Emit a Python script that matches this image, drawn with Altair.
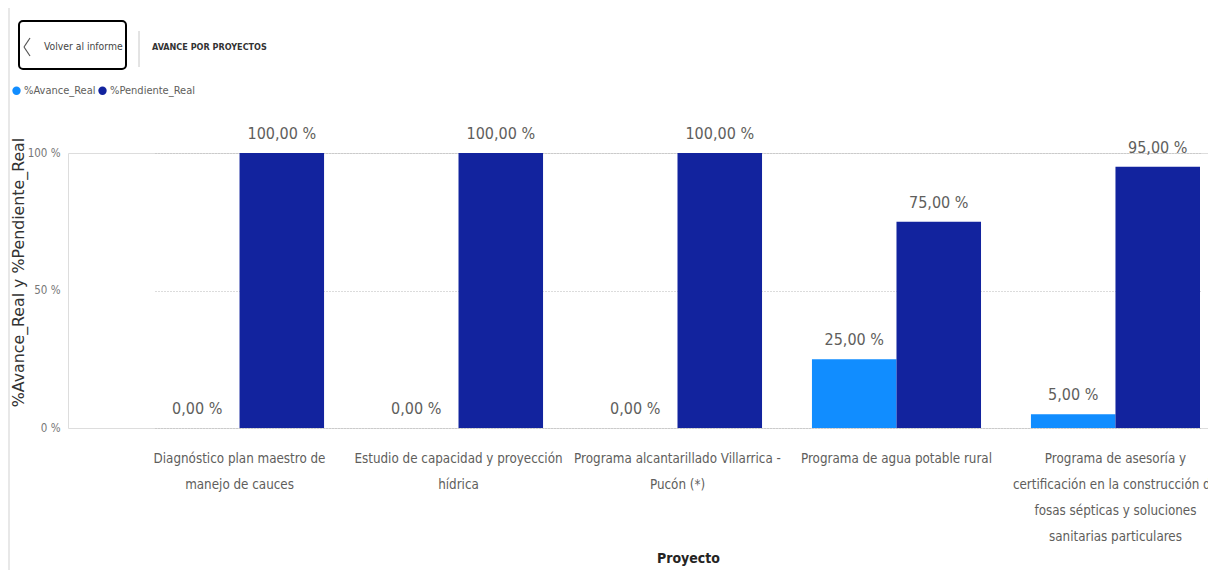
import altair as alt
import pandas as pd

# ---- data ----
project_lines = [
    ["Diagnóstico plan maestro de", "manejo de cauces"],
    ["Estudio de capacidad y proyección", "hídrica"],
    ["Programa alcantarillado Villarrica -", "Pucón (*)"],
    ["Programa de agua potable rural"],
    ["Programa de asesoría y", "certificación en la construcción de",
     "fosas sépticas y soluciones", "sanitarias particulares"],
]
avance_real = [0.00, 0.00, 0.00, 0.25, 0.05]
pendiente_real = [1.00, 1.00, 1.00, 0.75, 0.95]
series = ["%Avance_Real", "%Pendiente_Real"]
colors = ["#118DFF", "#12239E"]

projects = ["|".join(l) for l in project_lines]
rows = []
for p, a, pe in zip(projects, avance_real, pendiente_real):
    rows.append({"Proyecto": p, "Serie": series[0], "Valor": a})
    rows.append({"Proyecto": p, "Serie": series[1], "Valor": pe})
df = pd.DataFrame(rows)

NARROW = "Liberation Sans Narrow, DejaVu Sans Condensed, Roboto, sans-serif"
TXT = "#605E5C"

x_enc = alt.X("Proyecto:N", sort=projects,
              scale=alt.Scale(range=[87, 1132], paddingInner=0.228, paddingOuter=0),
              axis=alt.Axis(title="Proyecto", labelAngle=0, domain=False, ticks=False,
                            labelExpr="split(datum.label, '|')",
                            labelFont=NARROW, labelFontSize=13.3, labelColor=TXT,
                            labelLineHeight=26, labelPadding=23, labelLimit=400,
                            titleFont=NARROW, titleFontSize=14, titleFontWeight="bold",
                            titleColor="#252423", titleX=620, titleY=130,
                            titleBaseline="middle", titleAlign="center"))
xo_enc = alt.XOffset("Serie:N", sort=series, scale=alt.Scale(paddingInner=0, paddingOuter=0))
y_enc = alt.Y("Valor:Q", scale=alt.Scale(domain=[0, 1], nice=False),
              axis=alt.Axis(values=[0, 0.5, 1], domain=False, ticks=False,
                            labelExpr="format(datum.value*100, 'd') + ' %'",
                            labelFont=NARROW, labelFontSize=11.5, labelColor="#777777",
                            labelPadding=8, grid=True, gridDash=[1, 2], gridColor="#B8B8B8",
                            title="%Avance_Real y %Pendiente_Real",
                            titleFont="DejaVu Sans", titleFontSize=15.8, titleFontWeight="normal",
                            titleColor="#333333", titleAngle=270, titleX=-50, titleY=119,
                            titleAlign="center", titleBaseline="middle"))

color_enc = alt.Color("Serie:N", sort=series,
                      scale=alt.Scale(domain=series, range=colors),
                      legend=alt.Legend(title=None, orient="none", legendX=-57, legendY=-68,
                                        direction="horizontal", symbolType="circle",
                                        symbolSize=70, symbolStrokeWidth=0,
                                        labelFont=NARROW, labelFontSize=11, labelColor=TXT,
                                        labelOffset=2, columnPadding=1))

base = alt.Chart(df)
bars = base.mark_bar().encode(x=x_enc, xOffset=xo_enc, y=y_enc, color=color_enc)
labels = base.transform_calculate(
    lbl="replace(format(datum.Valor*100, '.2f'), '.', ',') + ' %'"
).mark_text(baseline="bottom", dy=-11, font=NARROW, fontSize=16, color=TXT).encode(
    x=x_enc, xOffset=xo_enc, y=y_enc, text="lbl:N")

# ---- header (Power BI style) ----
hdr = pd.DataFrame({"t": ["Volver al informe"]})
hdr2 = pd.DataFrame({"t": ["AVANCE POR PROYECTOS"]})
border = alt.Chart(hdr).mark_rule(color="#E1E1E1", strokeWidth=1.5).encode(
    x=alt.value(-59), y=alt.value(-153), y2=alt.value(420))
button = alt.Chart(hdr).mark_rect(fill="white", stroke="#000000", strokeWidth=2,
                                  cornerRadius=4).encode(
    x=alt.value(-49), x2=alt.value(58), y=alt.value(-132), y2=alt.value(-84))
chev1 = alt.Chart(hdr).mark_rule(color="#555555", strokeWidth=1.2).encode(
    x=alt.value(-38), x2=alt.value(-44), y=alt.value(-115), y2=alt.value(-106))
chev2 = alt.Chart(hdr).mark_rule(color="#555555", strokeWidth=1.2).encode(
    x=alt.value(-44), x2=alt.value(-38), y=alt.value(-106), y2=alt.value(-97))
btn_text = alt.Chart(hdr).mark_text(align="left", baseline="middle", font=NARROW,
                                    fontSize=10.3, color="#444444").encode(
    x=alt.value(-24), y=alt.value(-106), text="t:N")
sep = alt.Chart(hdr).mark_rule(color="#C8C8C8", strokeWidth=1).encode(
    x=alt.value(71), y=alt.value(-122), y2=alt.value(-86))
title_text = alt.Chart(hdr2).mark_text(align="left", baseline="middle", font=NARROW,
                                       fontSize=9, fontWeight="bold", color="#333333").encode(
    x=alt.value(84), y=alt.value(-106), text="t:N")

chart = alt.layer(bars, labels, border, button, chev1, chev2, btn_text, sep, title_text).properties(
    width=1140, height=275,
    autosize=alt.AutoSizeParams(type="none"),
    padding={"left": 60, "top": 145, "right": 0, "bottom": 142},
).configure_view(stroke=None).configure(background="white")

chart.save("out.html", embed_options={"renderer": "svg", "actions": False})
